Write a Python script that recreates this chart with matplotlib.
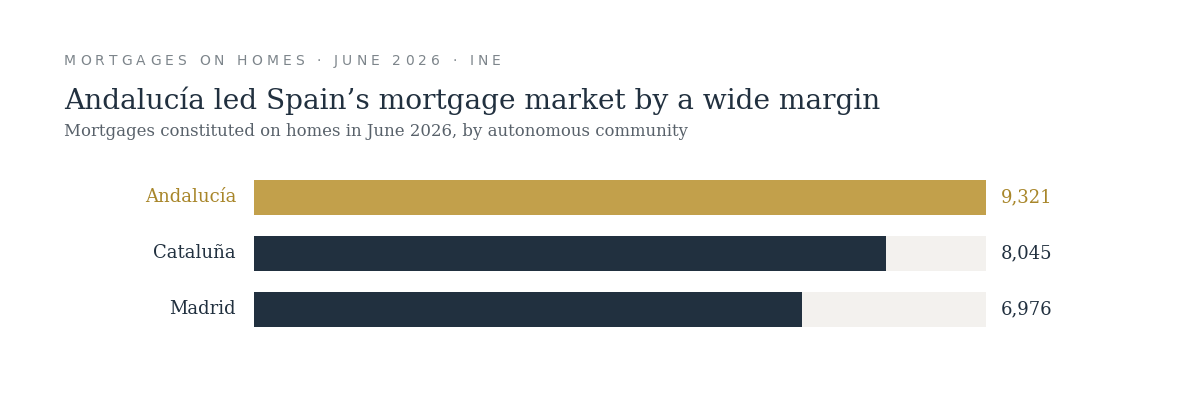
import matplotlib
matplotlib.use("Agg")
import matplotlib.pyplot as plt
from matplotlib.transforms import offset_copy

# Données
regions = ["Andalucía", "Cataluña", "Madrid"]
mortgages = [9321, 8045, 6976]

kicker = "MORTGAGES ON HOMES · JUNE 2026 · INE"
title = "Andalucía led Spain’s mortgage market by a wide margin"
subtitle = "Mortgages constituted on homes in June 2026, by autonomous community"

# Couleurs
gold = "#c2a04b"
gold_txt = "#a8862a"
navy = "#21303f"
track = "#f3f1ee"
grey = "#7d858b"
sub_grey = "#58616a"

serif = ["DejaVu Serif"]

W, H = 1200, 420
fig = plt.figure(figsize=(W / 100, H / 100), dpi=100)
fig.patch.set_facecolor("white")

# Axe des barres (positions en pixels -> fractions)
left, right = 254, 986
top, bottom = 169.5, 337.5
ax = fig.add_axes([left / W, 1 - bottom / H, (right - left) / W, (bottom - top) / H])
ax.set_xlim(0, max(mortgages))
ax.set_ylim(len(regions) - 0.5, -0.5)
ax.axis("off")

y = range(len(regions))
bar_h = 35 / 56
ax.barh(y, [max(mortgages)] * len(regions), height=bar_h, color=track, linewidth=0)
colors = [gold if v == max(mortgages) else navy for v in mortgages]
ax.barh(y, mortgages, height=bar_h, color=colors, linewidth=0)

lab_tr = offset_copy(ax.get_yaxis_transform(), fig=fig, x=-18 * 0.72, y=0, units="points")
val_tr = offset_copy(ax.get_yaxis_transform(), fig=fig, x=15 * 0.72, y=0, units="points")
for i, (r, v) in enumerate(zip(regions, mortgages)):
	c = gold_txt if v == max(mortgages) else navy
	ax.text(0, i, r, transform=lab_tr, ha="right", va="center", fontsize=13,
			color=c, family=serif)
	ax.text(1, i, f"{v:,}", transform=val_tr, ha="left", va="center", fontsize=13,
			color=c, family=serif)

# Surtitre espacé, caractère par caractère
renderer = fig.canvas.get_renderer()
x = 64
track_px = 4.1
for ch in kicker:
	t = fig.text(x / W, 1 - 61 / H, ch, fontsize=10, color=grey, ha="left",
				 va="center", family=["DejaVu Sans"])
	w = t.get_window_extent(renderer).width
	if ch == " ":
		w = 4.5
	x += w + track_px

fig.text(64 / W, 1 - 101 / H, title, fontsize=20.2, color=navy, ha="left",
		 va="center", family=serif)
fig.text(64 / W, 1 - 132 / H, subtitle, fontsize=11.9, color=sub_grey, ha="left",
		 va="center", family=serif)

fig.savefig("out.png", dpi=100, facecolor="white")
